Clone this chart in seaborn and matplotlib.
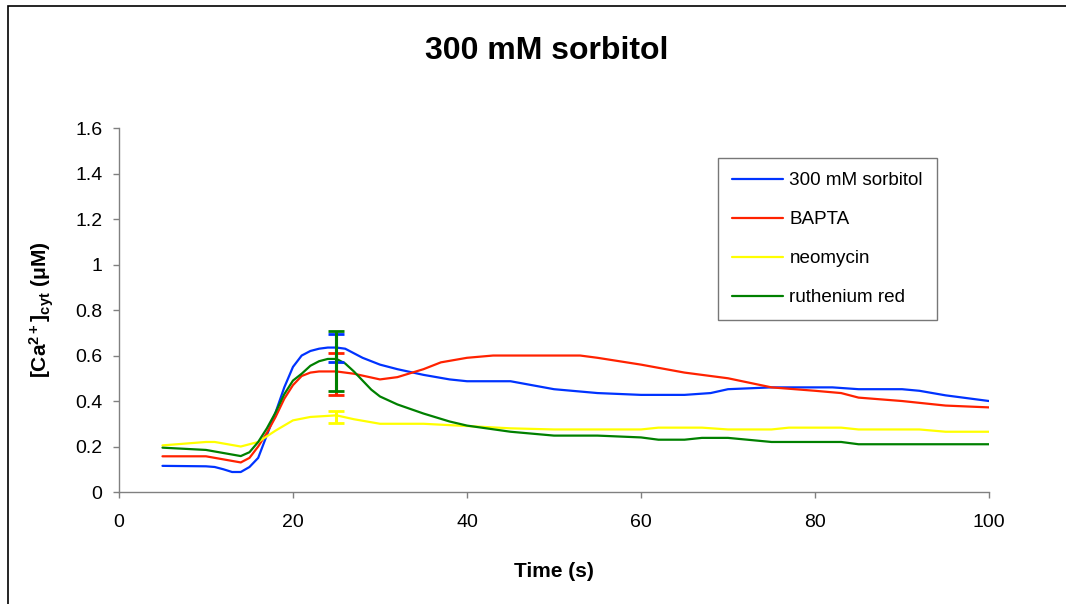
import matplotlib
matplotlib.use("Agg")
import matplotlib.pyplot as plt
import seaborn as sns
import pandas as pd
from matplotlib.patches import Rectangle
from matplotlib.lines import Line2D

sns.set_theme(style="white")
plt.rcParams['font.family'] = ['Liberation Sans', 'DejaVu Sans']
plt.rcParams['mathtext.fontset'] = 'custom'
plt.rcParams['mathtext.rm'] = 'Liberation Sans:bold'
plt.rcParams['mathtext.bf'] = 'Liberation Sans:bold'
plt.rcParams['mathtext.default'] = 'bf'
plt.rcParams['text.color'] = 'black'
plt.rcParams['axes.labelcolor'] = 'black'
plt.rcParams['xtick.color'] = 'black'
plt.rcParams['ytick.color'] = 'black'

# ---- data ----
sorb_t = [5, 10, 11, 12, 13, 14, 15, 16, 17, 18, 19, 20, 21, 22, 23, 24, 25, 26, 27, 28, 30, 32, 35, 38, 40, 45, 50, 55, 60, 65, 68, 70, 75, 80, 82, 85, 90, 92, 95, 100]
sorb_v = [0.115, 0.113, 0.11, 0.1, 0.088, 0.088, 0.11, 0.15, 0.25, 0.35, 0.46, 0.55, 0.60, 0.62, 0.63, 0.635, 0.635, 0.63, 0.61, 0.59, 0.56, 0.54, 0.515, 0.495, 0.487, 0.487, 0.452, 0.435, 0.427, 0.427, 0.435, 0.452, 0.46, 0.46, 0.46, 0.452, 0.452, 0.445, 0.425, 0.40]

bapta_t = [5, 10, 14, 15, 16, 17, 18, 19, 20, 21, 22, 23, 25, 27, 30, 32, 35, 37, 40, 43, 50, 53, 55, 60, 65, 70, 75, 80, 83, 85, 90, 95, 100]
bapta_v = [0.157, 0.157, 0.13, 0.15, 0.2, 0.26, 0.33, 0.41, 0.47, 0.51, 0.525, 0.53, 0.53, 0.52, 0.495, 0.505, 0.54, 0.57, 0.59, 0.60, 0.60, 0.60, 0.59, 0.56, 0.525, 0.50, 0.46, 0.445, 0.435, 0.415, 0.40, 0.38, 0.372]

neo_t = [5, 10, 11, 14, 16, 18, 20, 22, 25, 27, 30, 35, 40, 45, 50, 60, 62, 67, 70, 75, 77, 83, 85, 92, 95, 100]
neo_v = [0.205, 0.22, 0.22, 0.20, 0.22, 0.27, 0.315, 0.33, 0.337, 0.32, 0.30, 0.30, 0.29, 0.28, 0.275, 0.275, 0.283, 0.283, 0.275, 0.275, 0.283, 0.283, 0.275, 0.275, 0.265, 0.265]

ruth_t = [5, 10, 14, 15, 16, 17, 18, 19, 20, 21, 22, 23, 24, 25, 26, 27, 28, 29, 30, 32, 35, 38, 40, 45, 50, 55, 60, 62, 65, 67, 70, 75, 83, 85, 90, 100]
ruth_v = [0.195, 0.185, 0.158, 0.175, 0.22, 0.28, 0.35, 0.43, 0.49, 0.52, 0.555, 0.575, 0.585, 0.585, 0.565, 0.53, 0.49, 0.45, 0.42, 0.385, 0.345, 0.31, 0.292, 0.265, 0.248, 0.248, 0.24, 0.23, 0.23, 0.238, 0.238, 0.22, 0.22, 0.21, 0.21, 0.21]

labels = ["300 mM sorbitol", "BAPTA", "neomycin", "ruthenium red"]
colors = ["#0033ff", "#ff2200", "#ffff00", "#008000"]

err_t = 25
err_mean = [0.633, 0.519, 0.331, 0.576]
err_size = [0.06, 0.093, 0.026, 0.132]

series = [(sorb_t, sorb_v), (bapta_t, bapta_v), (neo_t, neo_v), (ruth_t, ruth_v)]
frames = []
for lab, (t, v) in zip(labels, series):
    frames.append(pd.DataFrame({"Time": t, "Ca": v, "Series": lab}))
df = pd.concat(frames, ignore_index=True)

fig = plt.figure(figsize=(10.66, 6.04), dpi=100)
ax = fig.add_axes([0.1116, 0.1854, 0.8162, 0.6026])

sns.lineplot(data=df, x="Time", y="Ca", hue="Series", hue_order=labels,
             palette=colors, linewidth=1.6, ax=ax, legend=False, estimator=None, sort=False)

for m, e, c in zip(err_mean, err_size, colors):
    ax.errorbar([err_t], [m], yerr=[e], color=c, capsize=5.5, capthick=2,
                elinewidth=2.2, fmt="none", zorder=3)

ax.set_xlim(0, 100)
ax.set_ylim(0, 1.6)
ax.set_xticks([0, 20, 40, 60, 80, 100])
ax.set_yticks([0, 0.2, 0.4, 0.6, 0.8, 1.0, 1.2, 1.4, 1.6])
ax.set_yticklabels(["0", "0.2", "0.4", "0.6", "0.8", "1", "1.2", "1.4", "1.6"])
ax.tick_params(axis="both", labelsize=14, length=4, width=1, color="#808080",
               labelcolor="black", direction="out", left=True, bottom=True, pad=8)
ax.tick_params(axis="x", pad=12)
for s in ["top", "right"]:
    ax.spines[s].set_visible(False)
for s in ["left", "bottom"]:
    ax.spines[s].set_color("#808080")
    ax.spines[s].set_linewidth(1)

ax.set_xlabel("Time (s)", fontsize=15, fontweight="bold", labelpad=22, color="black")
ax.set_ylabel(r"[Ca$^{2+}$]$_{cyt}$ ($\mathregular{\mu}$M)", fontsize=15, fontweight="bold",
              labelpad=14, color="black")
fig.text(0.513, 0.915, "300 mM sorbitol", ha="center", va="center", fontsize=23,
         fontweight="bold", color="black")

handles = [Line2D([0], [0], color=c, lw=1.6) for c in colors]
leg = ax.legend(handles, labels, loc="upper left", bbox_to_anchor=(0.688, 0.918),
                fontsize=13.6, frameon=True, fancybox=False, labelspacing=1.15,
                handlelength=2.7, handletextpad=0.35, borderpad=0.75, borderaxespad=0)
leg.get_frame().set_edgecolor("#555555")
leg.get_frame().set_linewidth(1.0)
for t in leg.get_texts():
    t.set_color("black")

fig.patches.append(Rectangle((0.0075, -0.01), 1.1, 1.0, transform=fig.transFigure,
                             fill=False, edgecolor="black", linewidth=1.2))

fig.savefig("out.png", dpi=100)
